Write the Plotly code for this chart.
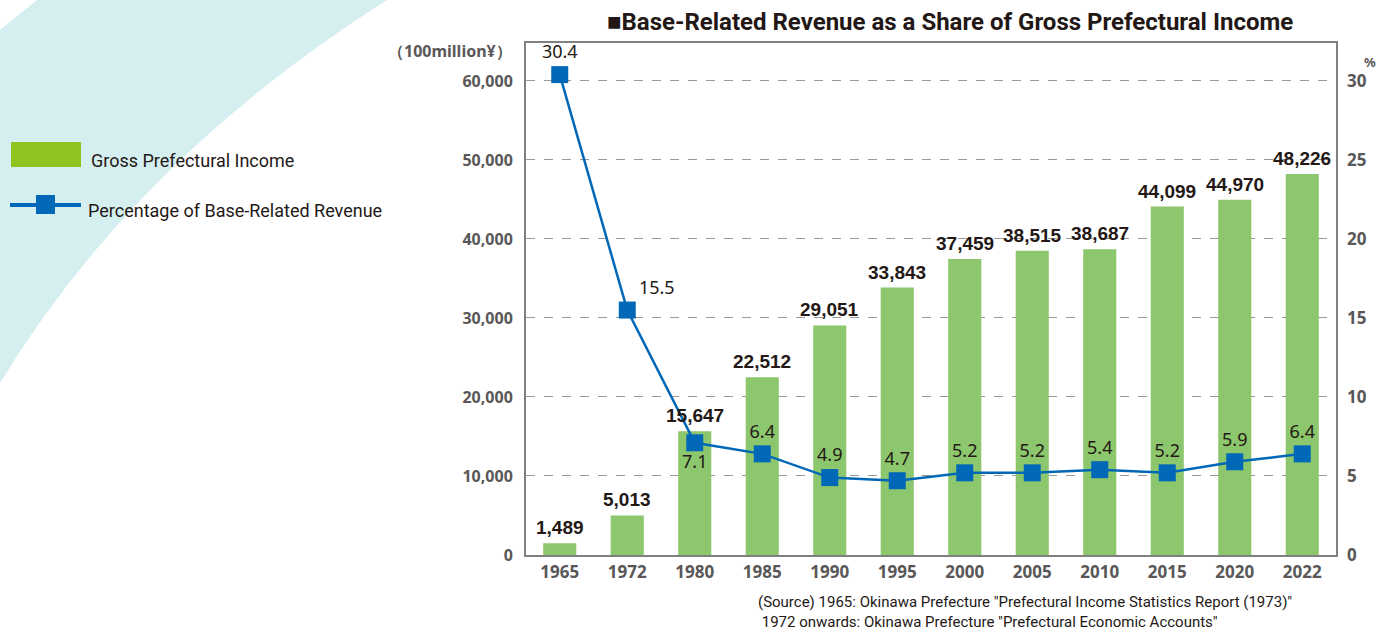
import plotly.graph_objects as go

years = ["1965", "1972", "1980", "1985", "1990", "1995", "2000", "2005", "2010", "2015", "2020", "2022"]
income = [1489, 5013, 15647, 22512, 29051, 33843, 37459, 38515, 38687, 44099, 44970, 48226]
share = [30.4, 15.5, 7.1, 6.4, 4.9, 4.7, 5.2, 5.2, 5.4, 5.2, 5.9, 6.4]
share_label_pos = ["top center", "top right", "bottom center", "top center", "top center", "top center",
                   "top center", "top center", "top center", "top center", "top center", "top center"]
left_ticks = [0, 10000, 20000, 30000, 40000, 50000, 60000]
right_ticks = [0, 5, 10, 15, 20, 25, 30]

W, H = 1392, 634
PX0, PX1, PY0, PY1 = 526, 1336, 43, 555  # plot area in pixels


def px(x):
    return (x - PX0) / (PX1 - PX0)


def py(y):
    return (PY1 - y) / (PY1 - PY0)


NARROW = "Roboto, Liberation Sans, sans-serif"
TICKF = "Noto Sans, Open Sans, sans-serif"
DARK = "#231815"
GRAY = "#595757"
BAR = "#8cc66d"
LINE = "#0068b7"

fig = go.Figure()
fig.add_trace(go.Bar(x=years, y=income, marker=dict(color=BAR, line=dict(width=0)),
                     yaxis="y", showlegend=False, hoverinfo="x+y"))
fig.add_trace(go.Scatter(x=years, y=share, yaxis="y2", mode="lines+markers+text",
                         line=dict(color=LINE, width=2.5),
                         marker=dict(symbol="square", size=17, color=LINE),
                         text=[f"{v:.1f}" for v in share], textposition=share_label_pos,
                         textfont=dict(family=TICKF, size=18, color=DARK),
                         showlegend=False, cliponaxis=False))

annotations = []
for i, v in enumerate(income):
    annotations.append(dict(x=i, y=v, xref="x", yref="y", text=f"<b>{v:,}</b>", showarrow=False,
                            yanchor="bottom", yshift=3,
                            font=dict(family="Liberation Sans, Arial, sans-serif", size=19, color=DARK)))

# title
annotations.append(dict(x=px(950), y=py(22), xref="paper", yref="paper", showarrow=False,
                        text="<b>■Base-Related Revenue as a Share of Gross Prefectural Income</b>",
                        font=dict(family=NARROW, size=24, color=DARK), xanchor="center", yanchor="middle"))
# unit labels
annotations.append(dict(x=px(514), y=py(51), xref="paper", yref="paper", showarrow=False,
                        text="<b>（100million¥）</b>", font=dict(family=TICKF, size=16, color=GRAY),
                        xanchor="right", yanchor="middle"))
annotations.append(dict(x=px(1370), y=py(62), xref="paper", yref="paper", showarrow=False,
                        text="<b>%</b>", font=dict(family=TICKF, size=13, color=GRAY),
                        xanchor="center", yanchor="middle"))
# legend text
annotations.append(dict(x=px(89), y=py(160), xref="paper", yref="paper", showarrow=False,
                        text="Gross Prefectural Income", font=dict(family=NARROW, size=18, color=DARK),
                        xanchor="left", yanchor="middle"))
annotations.append(dict(x=px(86), y=py(210), xref="paper", yref="paper", showarrow=False,
                        text="Percentage of Base-Related Revenue", font=dict(family=NARROW, size=18, color=DARK),
                        xanchor="left", yanchor="middle"))
# source
annotations.append(dict(x=px(756), y=py(612), xref="paper", yref="paper", showarrow=False,
                        text="(Source) 1965: Okinawa Prefecture \"Prefectural Income Statistics Report (1973)\"<br>"
                             " 1972 onwards: Okinawa Prefecture \"Prefectural Economic Accounts\"",
                        align="left", font=dict(family=NARROW, size=15, color=DARK),
                        xanchor="left", yanchor="middle"))

# background teal band (quadratic curve)
band = (f"M {px(37)},{py(0)} L {px(387)},{py(0)} "
        f"Q {px(136.5)},{py(158.5)} {px(0)},{py(383)} "
        f"L {px(0)},{py(30)} Z")
shapes = [
    dict(type="path", xref="paper", yref="paper", path=band, fillcolor="#d5eff0",
         line=dict(width=0), layer="below"),
    # legend swatches
    dict(type="rect", xref="paper", yref="paper", x0=px(11), x1=px(81), y0=py(142), y1=py(167),
         fillcolor="#8fc31f", line=dict(width=0)),
    dict(type="line", xref="paper", yref="paper", x0=px(10), x1=px(81), y0=py(205), y1=py(205),
         line=dict(color=LINE, width=4)),
    dict(type="rect", xref="paper", yref="paper", x0=px(36), x1=px(55), y0=py(195), y1=py(214),
         fillcolor=LINE, line=dict(width=0)),
]

fig.update_layout(
    width=W, height=H,
    margin=dict(l=PX0, r=W - PX1, t=PY0, b=H - PY1),
    paper_bgcolor="white", plot_bgcolor="white",
    bargap=0.51,
    showlegend=False,
    xaxis=dict(type="category", range=[-0.5, len(years) - 0.5], autorange=False,
               showline=True, linecolor="#808080", linewidth=2, mirror=True,
               ticks="", tickfont=dict(family=TICKF, size=17, color=GRAY, weight="bold"),
               ticklabelstandoff=1),
    yaxis=dict(range=[0, 64800], tickvals=left_ticks, ticktext=[f"{v:,}" for v in left_ticks],
               showgrid=True, gridcolor="#999999", griddash="dash", gridwidth=1, zeroline=False,
               showline=True, linecolor="#808080", linewidth=2, mirror=True, ticks="",
               tickfont=dict(family=TICKF, size=16, color=GRAY, weight="bold"), ticklabelstandoff=8),
    yaxis2=dict(range=[0, 32.4], tickvals=right_ticks, overlaying="y", side="right", showgrid=False,
                zeroline=False, ticks="", tickfont=dict(family=TICKF, size=17, color=GRAY, weight="bold"),
                ticklabelstandoff=10),
    annotations=annotations,
    shapes=shapes,
)

fig.write_html("out.html", config={"displayModeBar": False},
               post_script="document.body.style.margin='0';")
